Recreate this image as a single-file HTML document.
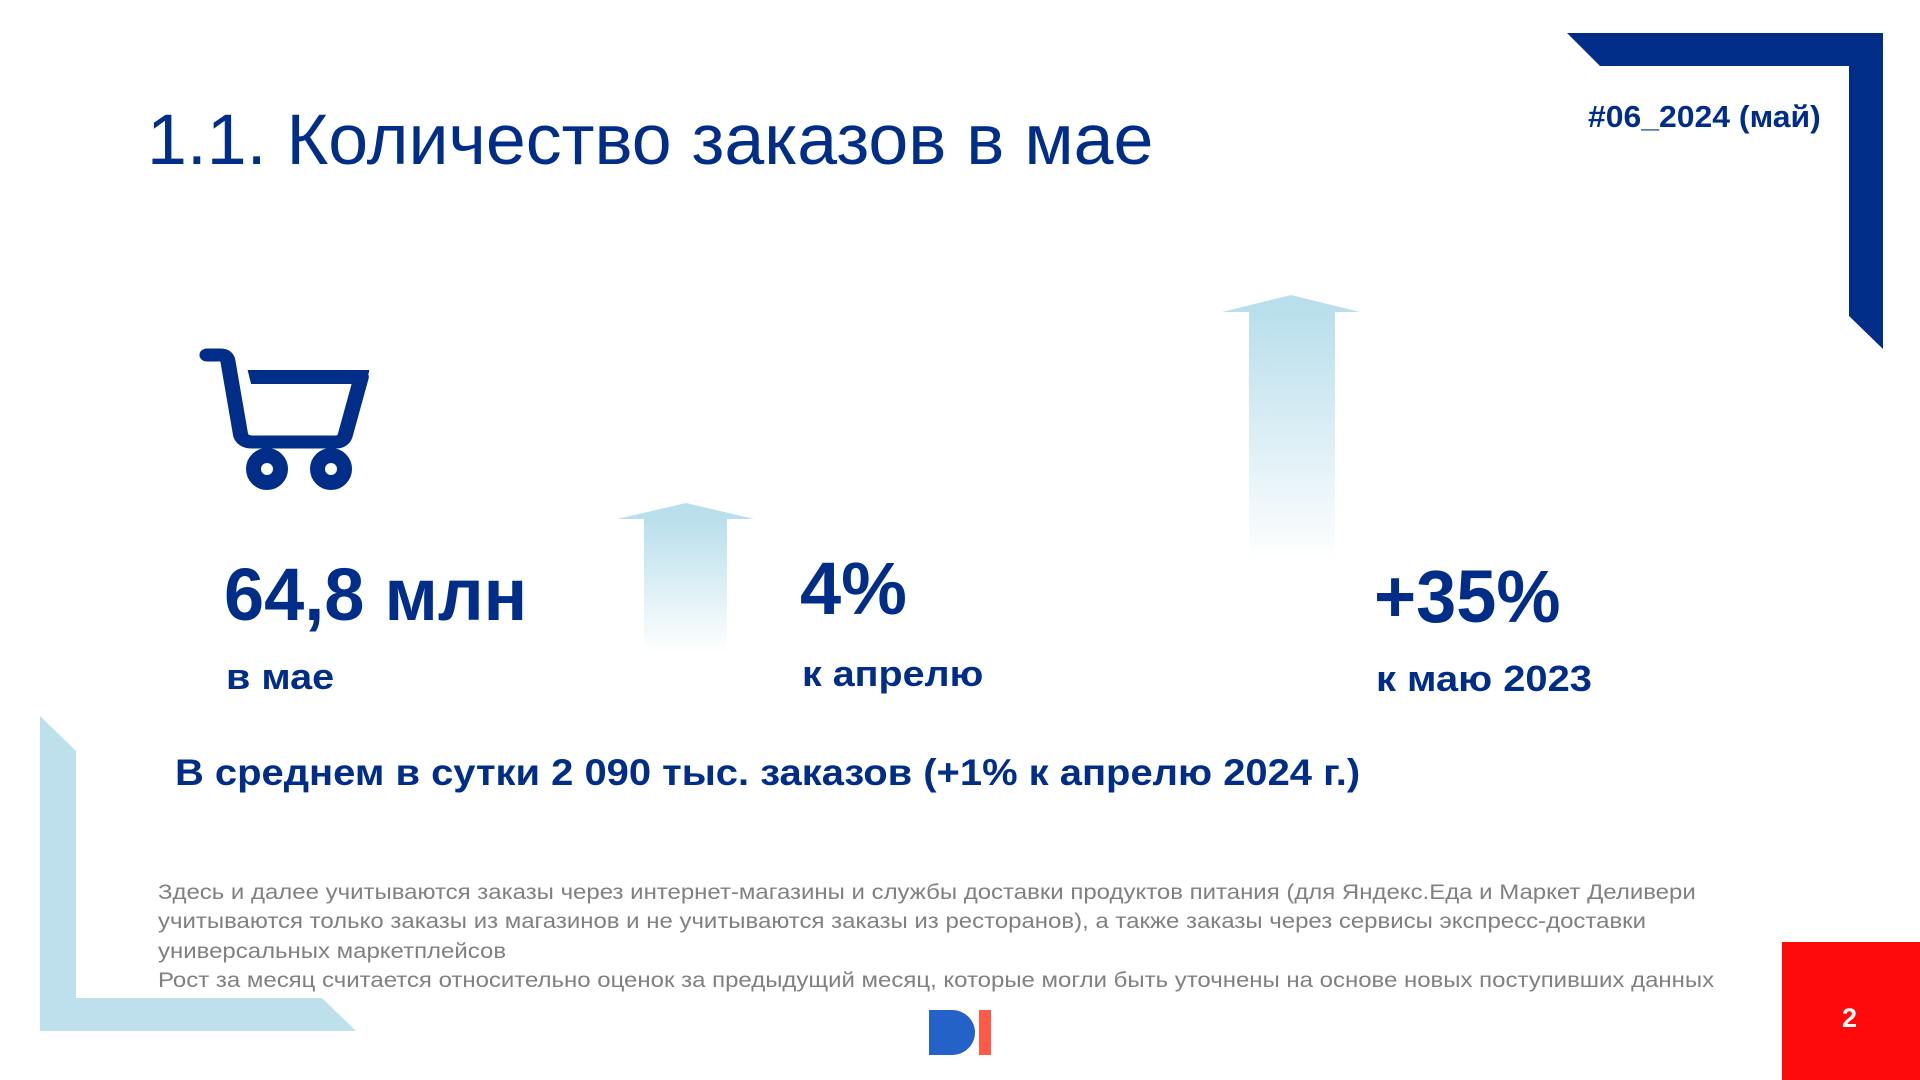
<!DOCTYPE html>
<html><head><meta charset="utf-8"><style>
html,body{margin:0;padding:0;}
body{width:1920px;height:1080px;position:relative;overflow:hidden;background:#fff;font-family:"Liberation Sans",Arial,sans-serif;color:#002D87;}
.t{position:absolute;white-space:nowrap;line-height:1;transform-origin:0 0;}
.b{font-weight:bold;}
</style></head><body>
<svg width="1920" height="1080" style="position:absolute;left:0;top:0">
<defs>
<linearGradient id="g" x1="0" y1="0" x2="0" y2="1">
<stop offset="0" stop-color="#B9DFEC"/><stop offset="1" stop-color="#B9DFEC" stop-opacity="0"/>
</linearGradient>
</defs>
<polygon points="1567,33 1883,33 1883,349 1849,316 1849,66 1600,66" fill="#002D87"/>
<polygon points="40,716 76,751 76,998 322,998 356,1031 40,1031" fill="#BEE0EC"/>
<polygon points="617,519 686,503 754,519" fill="#B9DFEC"/>
<rect x="644" y="519" width="83" height="135" fill="url(#g)"/>
<polygon points="1222,312 1291,295 1360,312" fill="#B9DFEC"/>
<rect x="1249" y="312" width="86" height="252" fill="url(#g)"/>
<g transform="translate(207,355) scale(1.16,1.0) translate(-205,-355)">
<path d="M205,355 H217 Q222,355 223,361 L234,435 Q236,442 244,442 H316 Q322,442 324,436 L338,377" fill="none" stroke="#002D87" stroke-width="13" stroke-linecap="round" stroke-linejoin="round"/>
<polygon points="240,370 345,370 342,384 243,384" fill="#002D87"/>
</g>
<circle cx="267" cy="469" r="13.5" fill="none" stroke="#002D87" stroke-width="15"/>
<circle cx="331" cy="469" r="13.5" fill="none" stroke="#002D87" stroke-width="15"/>
<path d="M929,1010 H952 A23,22.5 0 0 1 952,1055 H929 Z" fill="#2462C8"/>
<rect x="979" y="1010" width="12" height="45" fill="#FF5A47"/>
<rect x="1782" y="942" width="138" height="138" fill="#FF0A0A"/>
</svg>
<div class="t" style="left:147px;top:105px;font-size:71px;transform:scaleX(1.01);">1.1. Количество заказов в мае</div>
<div class="t b" style="left:1588px;top:101px;font-size:31px;transform:scaleX(1.03);">#06_2024 (май)</div>
<div class="t b" style="left:224px;top:558px;font-size:74px;transform:scaleX(0.975);">64,8 млн</div>
<div class="t b" style="left:226px;top:659px;font-size:36px;transform:scaleX(1.1);">в мае</div>
<div class="t b" style="left:800px;top:552px;font-size:74px;">4%</div>
<div class="t b" style="left:802px;top:656px;font-size:36px;transform:scaleX(1.096);">к апрелю</div>
<div class="t b" style="left:1374px;top:560px;font-size:74px;transform:scaleX(0.975);">+35%</div>
<div class="t b" style="left:1376px;top:661px;font-size:36px;transform:scaleX(1.107);">к маю 2023</div>
<div class="t b" style="left:175px;top:754px;font-size:37px;transform:scaleX(1.079);">В среднем в сутки 2 090 тыс. заказов (+1% к апрелю 2024 г.)</div>
<div class="t" style="left:158px;top:878px;font-size:21.5px;line-height:29.4px;color:#808080;transform:scaleX(1.115);">Здесь и далее учитываются заказы через интернет-магазины и службы доставки продуктов питания (для Яндекс.Еда и Маркет Деливери<br>учитываются только заказы из магазинов и не учитываются заказы из ресторанов), а также заказы через сервисы экспресс-доставки<br>универсальных маркетплейсов<br>Рост за месяц считается относительно оценок за предыдущий месяц, которые могли быть уточнены на основе новых поступивших данных</div>
<div class="t b" style="left:1842px;top:1005px;font-size:27px;color:#fff;">2</div>
</body></html>
